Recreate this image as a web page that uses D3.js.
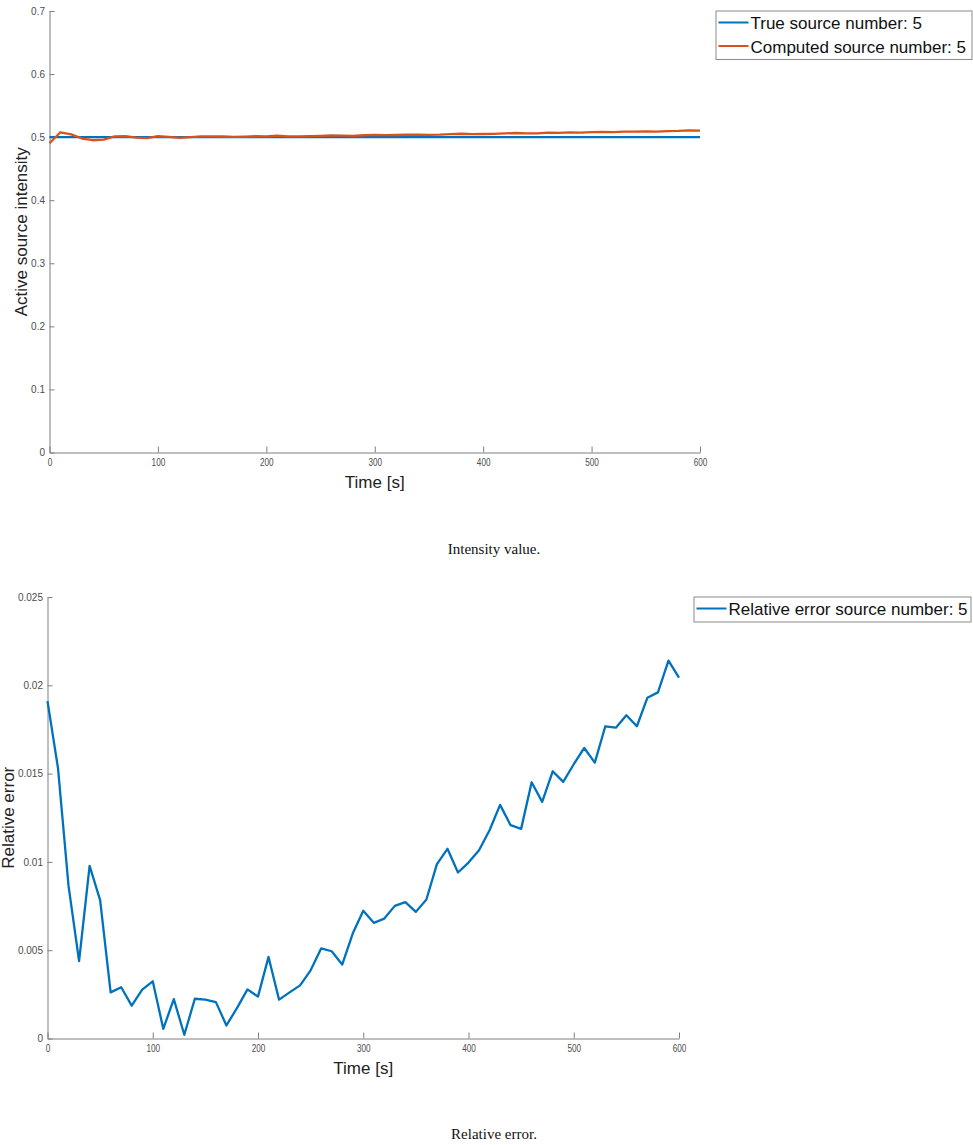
<!DOCTYPE html>
<html>
<head>
<meta charset="utf-8">
<script src="https://cdn.jsdelivr.net/npm/d3@7"></script>
<style>
  body { margin: 0; background: #fff; }
  svg { display: block; font-family: "Liberation Sans", Arial, sans-serif; }
  .axis path, .axis line { stroke: #7f7f7f; }
  .axis text { fill: #4d4d4d; font-size: 10px; font-family: "Liberation Sans", Arial, sans-serif; }
  .caption { font-family: "Liberation Serif", "Times New Roman", serif; font-size: 15px; fill: #111; }
</style>
</head>
<body>
<div id="container"></div>
<script>
// time axis (seconds), one sample every 10 s
var time = [0,10,20,30,40,50,60,70,80,90,100,110,120,130,140,150,160,170,180,190,200,
  210,220,230,240,250,260,270,280,290,300,310,320,330,340,350,360,370,380,390,400,
  410,420,430,440,450,460,470,480,490,500,510,520,530,540,550,560,570,580,590,600];

// true source intensity (constant)
var trueTime = [0, 600];
var trueIntensity = [0.5, 0.5];

// computed source intensity
var computedIntensity = [0.4904,0.5077,0.5043,0.4978,0.4951,0.4961,0.5013,0.5015,0.4991,0.4986,0.5016,
  0.5003,0.4989,0.5001,0.5011,0.5011,0.5010,0.5004,0.5009,0.5014,0.5012,
  0.5023,0.5011,0.5013,0.5015,0.5019,0.5026,0.5025,0.5021,0.5030,0.5036,
  0.5033,0.5034,0.5038,0.5039,0.5036,0.5039,0.5049,0.5054,0.5047,0.5050,
  0.5053,0.5059,0.5066,0.5060,0.5059,0.5073,0.5067,0.5076,0.5073,0.5078,
  0.5082,0.5078,0.5088,0.5088,0.5092,0.5088,0.5097,0.5098,0.5107,0.5102];

// relative error
var relError = [0.0191,0.0153,0.00864,0.00438,0.00977,0.00784,0.00261,0.0029,0.00186,0.00277,0.00324,
  0.00055,0.00223,0.00021,0.00225,0.0022,0.00206,0.00074,0.00172,0.00278,0.00237,
  0.00462,0.0022,0.00261,0.00301,0.00386,0.0051,0.00494,0.00419,0.00594,0.00723,
  0.00655,0.00679,0.00751,0.00772,0.00717,0.00787,0.00987,0.01074,0.0094,0.00996,
  0.01066,0.01179,0.01323,0.01208,0.01187,0.01451,0.0134,0.01513,0.01453,0.01553,
  0.01645,0.01562,0.01768,0.0176,0.0183,0.01768,0.0193,0.0196,0.0214,0.02043];

// tick values
var xTicks = [0,100,200,300,400,500,600];
var yTicksTop = [0,0.1,0.2,0.3,0.4,0.5,0.6,0.7];
var yTicksBottom = [0,0.005,0.01,0.015,0.02,0.025];

var blue = "#0072bd", orange = "#d95319";

var svg = d3.select("#container").append("svg")
  .attr("width", 973)
  .attr("height", 1145);

svg.append("rect").attr("width", 973).attr("height", 1145).attr("fill", "#fff");

function drawPanel(opt) {
  var x = d3.scaleLinear().domain([0, 600]).range([opt.left, opt.right]);
  var y = d3.scaleLinear().domain([0, opt.ymax]).range([opt.bottom, opt.top]);

  var xAxis = svg.append("g")
    .attr("class", "axis")
    .attr("transform", "translate(0," + opt.bottom + ")")
    .call(d3.axisBottom(x).tickValues(xTicks).tickSizeInner(-6).tickSizeOuter(0).tickPadding(6));
  xAxis.selectAll("text").attr("transform", "scale(0.82,1)");

  svg.append("g")
    .attr("class", "axis")
    .attr("transform", "translate(" + opt.left + ",0)")
    .call(d3.axisLeft(y).tickValues(opt.yTicks).tickSizeInner(-5).tickSizeOuter(0).tickPadding(4.5)
      .tickFormat(function(d) { return String(d); }));

  // axis titles
  svg.append("text")
    .attr("x", (opt.left + opt.right) / 2)
    .attr("y", opt.bottom + 35)
    .attr("text-anchor", "middle")
    .attr("font-size", 17)
    .attr("fill", "#222")
    .text("Time [s]");

  svg.append("text")
    .attr("transform", "translate(" + opt.ylabX + "," + (opt.top + opt.bottom) / 2 + ") rotate(-90)")
    .attr("text-anchor", "middle")
    .attr("font-size", 17)
    .attr("fill", "#222")
    .text(opt.ylabel);

  // series
  opt.series.forEach(function(s) {
    var line = d3.line()
      .x(function(d, i) { return x(s.t[i]); })
      .y(function(d) { return y(d); });
    svg.append("path")
      .datum(s.v)
      .attr("fill", "none")
      .attr("stroke", s.color)
      .attr("stroke-width", 2.3)
      .attr("stroke-linejoin", "round")
      .attr("d", line);
  });

  // legend
  var lg = svg.append("g");
  lg.append("rect")
    .attr("x", opt.legX).attr("y", opt.legY)
    .attr("width", opt.legW).attr("height", opt.series.length * 23.5 + 1.5)
    .attr("fill", "#fff").attr("stroke", "#8a8a8a").attr("stroke-width", 1);
  opt.series.forEach(function(s, i) {
    var ly = opt.legY + 11.5 + i * 23.5;
    lg.append("line")
      .attr("x1", opt.legX + 2.5).attr("x2", opt.legX + 32.5)
      .attr("y1", ly).attr("y2", ly)
      .attr("stroke", s.color).attr("stroke-width", 2);
    lg.append("text")
      .attr("x", opt.legX + 34.5).attr("y", ly + 6.5)
      .attr("font-size", 17)
      .attr("fill", "#111")
      .text(s.name);
  });

  svg.append("text")
    .attr("class", "caption")
    .attr("x", 494)
    .attr("y", opt.captionY)
    .attr("text-anchor", "middle")
    .text(opt.caption);
}

drawPanel({
  left: 49.5, right: 700, top: 11, bottom: 452.5, ymax: 0.7,
  yTicks: yTicksTop, ylabel: "Active source intensity", ylabX: 26.5,
  legX: 716, legY: 11, legW: 256,
  caption: "Intensity value.", captionY: 554,
  series: [
    { t: trueTime, v: trueIntensity, color: blue, name: "True source number: 5" },
    { t: time, v: computedIntensity, color: orange, name: "Computed source number: 5" }
  ]
});

drawPanel({
  left: 47.5, right: 679, top: 597, bottom: 1038.5, ymax: 0.025,
  yTicks: yTicksBottom, ylabel: "Relative error", ylabX: 14,
  legX: 694, legY: 597, legW: 277,
  caption: "Relative error.", captionY: 1139,
  series: [
    { t: time, v: relError, color: blue, name: "Relative error source number: 5" }
  ]
});
</script>
</body>
</html>
